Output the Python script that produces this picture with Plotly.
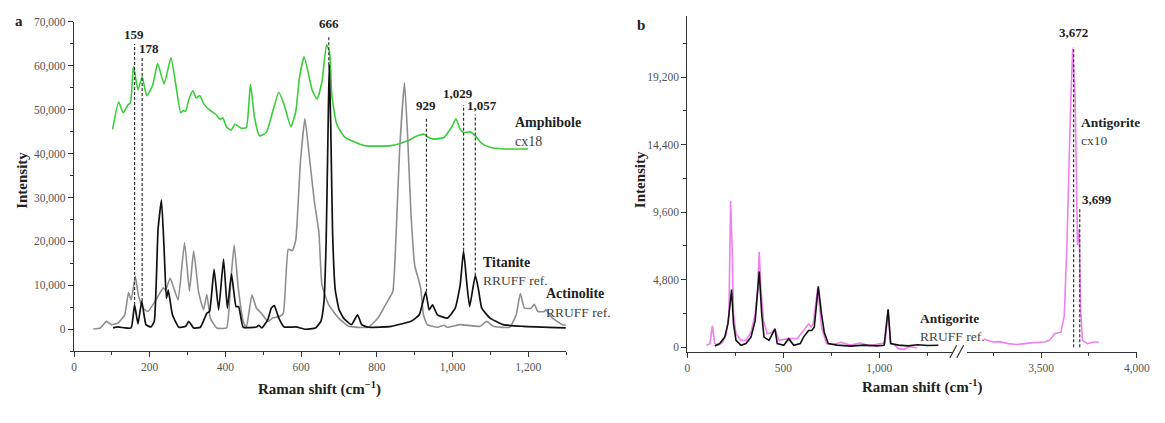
import plotly.graph_objects as go

# ---------------- Panel a data ----------------
amph_x = [102,118,130,143,149,157,169,180,192,208,221,238,256,269,282,289,295,303,314,323,332,344,360,375,386,393,403,415,425,442,455,466,477,490,508,525,541,555,573,586,595,608,629,642,655,667,675,681,694,716,768,838,881,907,925,933,951,977,999,1009,1020,1029,1046,1060,1077,1099,1133,1199]
amph_y = [45550,51770,49300,51160,51540,59920,54530,57530,53180,55650,60520,55880,61860,55650,49300,49810,49660,52280,54300,52660,53250,51160,49810,48920,47800,48180,46080,45330,46680,45780,45930,55800,48180,44060,44810,49660,54000,51160,46160,49660,57000,62050,54530,52440,56400,64800,63150,53400,46680,43690,41820,41820,42940,44060,44430,43840,43310,43690,46290,47950,45550,44810,44960,44060,42340,41440,41070,41070]

act_x = [51,69,86,99,116,134,144,151,162,170,182,195,208,221,236,242,254,264,275,292,305,316,329,342,351,360,377,403,414,423,434,447,455,470,482,495,512,525,543,553,566,577,586,598,610,622,635,647,655,673,699,725,777,803,825,842,851,860,873,881,890,900,907,916,923,933,960,977,986,1020,1073,1090,1107,1151,1168,1179,1190,1207,1216,1225,1242,1246,1264,1290,1299]
act_y = [70,300,1800,1050,1420,3290,8380,6660,12040,7780,4790,4040,5540,7400,9420,8900,11670,9270,6660,19750,8680,17880,8530,4420,7930,2540,300,300,10770,19230,9270,1800,300,7780,4790,3660,1800,2540,2920,3660,18240,17880,20490,38000,48020,39000,29000,22000,10030,5540,2540,670,450,2540,5910,8530,22000,40690,56160,44430,26480,14520,12270,9270,3290,1050,450,900,450,1050,670,1800,670,450,3290,8150,4790,4790,5690,4040,4040,4420,2540,1050,900]

tit_x = [103,116,134,151,160,169,179,190,203,212,222,231,238,244,249,260,277,295,303,316,334,351,358,370,382,395,405,416,428,435,447,482,488,496,512,521,529,541,555,586,612,638,652,660,666,671,674,678,683,690,700,712,733,749,760,777,838,890,912,929,938,947,960,986,1007,1020,1029,1038,1045,1060,1068,1077,1099,1133,1186,1299]
tit_y = [300,520,300,300,5540,1200,6440,1050,520,1800,22730,29460,18240,7020,8900,3290,450,670,1800,300,450,3660,4040,13620,4420,16000,4790,12640,5160,5160,450,520,900,300,2180,4790,5390,2540,520,520,0,300,1800,6000,20000,45000,60140,47000,22000,9000,4500,2540,1050,3290,1050,450,670,1800,3290,8530,4420,5540,3290,2540,4790,10030,17880,10030,5160,12270,9270,4790,2540,1050,670,300]

peak_a_labels = ["159", "178", "666", "929", "1,029", "1,057"]
peak_a_line_x = [160, 180, 673, 931, 1029, 1060]
peak_a_line_top = [65000, 61900, 66800, 48400, 51100, 48900]
peak_a_line_bot = [5540, 6440, 60140, 8530, 17880, 12270]
peak_a_label_x = [159, 198, 673, 931, 1014, 1079]
peak_a_label_y = [65000, 61800, 67400, 48900, 51600, 48900]

# ---------------- Panel b data ----------------
pink1_x = [99,117,130,142,159,185,202,216,225,233,240,253,279,305,331,353,365,374,384,396,416,442,456,477,528,571,605,620,631,645,656,679,699,725,760,800,850,900,950,1000,1030,1046,1059,1080,1100,1130,1160,1198]
pink1_y = [140,260,1540,260,140,370,960,2360,10390,7010,2360,960,490,490,1070,2360,3980,6780,3980,1890,960,1070,1310,490,610,610,1190,1500,1660,1450,1700,4210,1420,260,200,350,150,300,100,250,300,2600,300,150,-100,-150,50,-50]

black1_x = [142,168,194,211,230,240,253,279,305,331,353,374,387,399,425,456,468,502,528,554,588,605,631,648,661,682,699,713,734,780,850,920,990,1025,1046,1059,1100,1150,1200,1250,1308]
black1_y = [90,260,720,1660,4100,1660,490,140,260,720,1890,5380,2360,720,490,1310,260,140,610,140,260,720,1190,1190,1420,4330,2360,1070,260,150,80,150,100,140,2700,260,150,100,180,120,140]

pink2_x = [3202,3219,3253,3280,3330,3370,3416,3460,3519,3545,3570,3604,3621,3635,3653,3665,3678,3690,3699,3707,3716,3742,3776,3802]
pink2_y = [610,490,370,400,260,200,260,330,370,490,960,1070,2240,7250,16570,21230,17730,7250,8410,2590,490,260,370,370]

peak_b_labels = ["3,672", "3,699"]
peak_b_line_x = [3670, 3702]
peak_b_line_top = [21340, 9810]

FONT = "Liberation Serif"
W, H = 1165, 423

def px(x):
    return x / W

def py(y):
    return 1 - y / H

fig = go.Figure()

# panel a traces
fig.add_trace(go.Scatter(x=amph_x, y=amph_y, mode="lines",
                         line=dict(color="#3acd3a", width=1.6, shape="spline", smoothing=0.5),
                         xaxis="x", yaxis="y", showlegend=False))
fig.add_trace(go.Scatter(x=act_x, y=act_y, mode="lines",
                         line=dict(color="#8e8e8e", width=1.6, shape="spline", smoothing=0.4),
                         xaxis="x", yaxis="y", showlegend=False))
fig.add_trace(go.Scatter(x=tit_x, y=tit_y, mode="lines",
                         line=dict(color="#111111", width=1.7, shape="spline", smoothing=0.4),
                         xaxis="x", yaxis="y", showlegend=False))

# panel b traces
fig.add_trace(go.Scatter(x=pink1_x, y=pink1_y, mode="lines", line=dict(color="#ee80ee", width=1.6),
                         xaxis="x2", yaxis="y2", showlegend=False))
fig.add_trace(go.Scatter(x=black1_x, y=black1_y, mode="lines", line=dict(color="#111111", width=1.6),
                         xaxis="x2", yaxis="y2", showlegend=False))
fig.add_trace(go.Scatter(x=pink2_x, y=pink2_y, mode="lines", line=dict(color="#ee80ee", width=1.6),
                         xaxis="x3", yaxis="y2", showlegend=False))

shapes = []
for xv, yt, yb in zip(peak_a_line_x, peak_a_line_top, peak_a_line_bot):
    shapes.append(dict(type="line", xref="x", yref="y", x0=xv, x1=xv, y0=yb, y1=yt,
                       line=dict(color="#333333", width=1.2, dash="3px,2px")))
for xv, yt in zip(peak_b_line_x, peak_b_line_top):
    shapes.append(dict(type="line", xref="x3", yref="y2", x0=xv, x1=xv, y0=0, y1=yt,
                       line=dict(color="#333333", width=1.2, dash="3px,2px")))
# axis break marks
for x0 in (960, 967):
    shapes.append(dict(type="line", xref="paper", yref="paper", x0=px(x0), x1=px(x0 + 7),
                       y0=py(358), y1=py(345), line=dict(color="#333333", width=1.2)))

ann = []
def txt(text, x, y, xref, yref, size=13, bold=False, xanchor="left", yanchor="middle", color="#222222", angle=0):
    t = f"<b>{text}</b>" if bold else text
    ann.append(dict(text=t, x=x, y=y, xref=xref, yref=yref, showarrow=False, xanchor=xanchor,
                    yanchor=yanchor, textangle=angle, font=dict(family=FONT, size=size, color=color)))

for lab, lx, ly in zip(peak_a_labels, peak_a_label_x, peak_a_label_y):
    txt(lab, lx, ly, "x", "y", size=13, bold=True, xanchor="center", yanchor="bottom")

txt("Amphibole", 1160, 47120, "x", "y", size=14, bold=True)
txt("cx18", 1160, 42860, "x", "y", size=14, color="#444444")
txt("Titanite", 1074, 15260, "x", "y", size=14, bold=True)
txt("RRUFF ref.", 1074, 11000, "x", "y", size=13.5, color="#444444")
txt("Actinolite", 1241, 8080, "x", "y", size=14, bold=True)
txt("RRUFF ref.", 1241, 3810, "x", "y", size=13.5, color="#444444")

txt(peak_b_labels[0], 3670, 21700, "x3", "y2", size=13, bold=True, xanchor="center", yanchor="bottom")
txt(peak_b_labels[1], 3705, 10490, "x3", "y2", size=13, bold=True)
txt("Antigorite", 3700, 15940, "x3", "y2", size=13.5, bold=True)
txt("cx10", 3700, 14680, "x3", "y2", size=13.5, color="#444444")
txt("Antigorite", 1203, 2030, "x2", "y2", size=13.5, bold=True)
txt("RRUFF ref.", 1203, 770, "x2", "y2", size=13.5, color="#444444")

# panel letters and axis titles
txt("a", px(16.5), py(15.5), "paper", "paper", size=15, bold=True, xanchor="center")
txt("b", px(647), py(19.5), "paper", "paper", size=15, bold=True, xanchor="center")
txt("Intensity", px(19), py(177), "paper", "paper", size=15, bold=True, xanchor="center", angle=-90)
txt("Intensity", px(646), py(177), "paper", "paper", size=15, bold=True, xanchor="center", angle=-90)
txt("Raman shift (cm<sup>−1</sup>)", px(321), py(389), "paper", "paper", size=15, bold=True, xanchor="center")
txt("Raman shift (cm<sup>-1</sup>)", px(932), py(387), "paper", "paper", size=15, bold=True, xanchor="center")

axis_common = dict(showgrid=False, zeroline=False, showline=True, linecolor="#333333", linewidth=1.4,
                   ticks="outside", ticklen=5, tickwidth=1.2, tickcolor="#333333",
                   tickfont=dict(family=FONT, size=11.5, color="#555555"), tickformat=",d")

fig.update_layout(
    width=W, height=H, margin=dict(l=0, r=0, t=0, b=0),
    paper_bgcolor="white", plot_bgcolor="white",
    xaxis=dict(domain=[px(72), px(571)], range=[0, 1300], anchor="y", dtick=200, tick0=0,
               minor=dict(dtick=100, ticklen=3, ticks="outside", tickcolor="#333333"), **axis_common),
    yaxis=dict(domain=[py(351), py(16)], range=[-5000, 70050], anchor="x", dtick=10000, tick0=0,
               minor=dict(dtick=5000, ticklen=3, ticks="outside", tickcolor="#333333"), **axis_common),
    xaxis2=dict(domain=[px(694), px(963)], range=[0, 1383], anchor="y2", dtick=500, tick0=0,
                minor=dict(dtick=250, ticklen=3, ticks="outside", tickcolor="#333333"), **axis_common),
    xaxis3=dict(domain=[px(977), px(1150)], range=[3111, 4002], anchor="y2", dtick=500, tick0=0,
                minor=dict(dtick=250, ticklen=3, ticks="outside", tickcolor="#333333"), **axis_common),
    yaxis2=dict(domain=[py(352), py(10)], range=[-350, 23550], anchor="x2", dtick=4800, tick0=0,
                minor=dict(dtick=2400, ticklen=3, ticks="outside", tickcolor="#333333"), **axis_common),
    shapes=shapes,
    annotations=ann,
)

fig.write_html("out.html", config={"displayModeBar": False},
               post_script="document.body.style.margin='0';document.body.style.padding='0';"
                           "document.documentElement.style.overflow='hidden';document.body.style.overflow='hidden';")
